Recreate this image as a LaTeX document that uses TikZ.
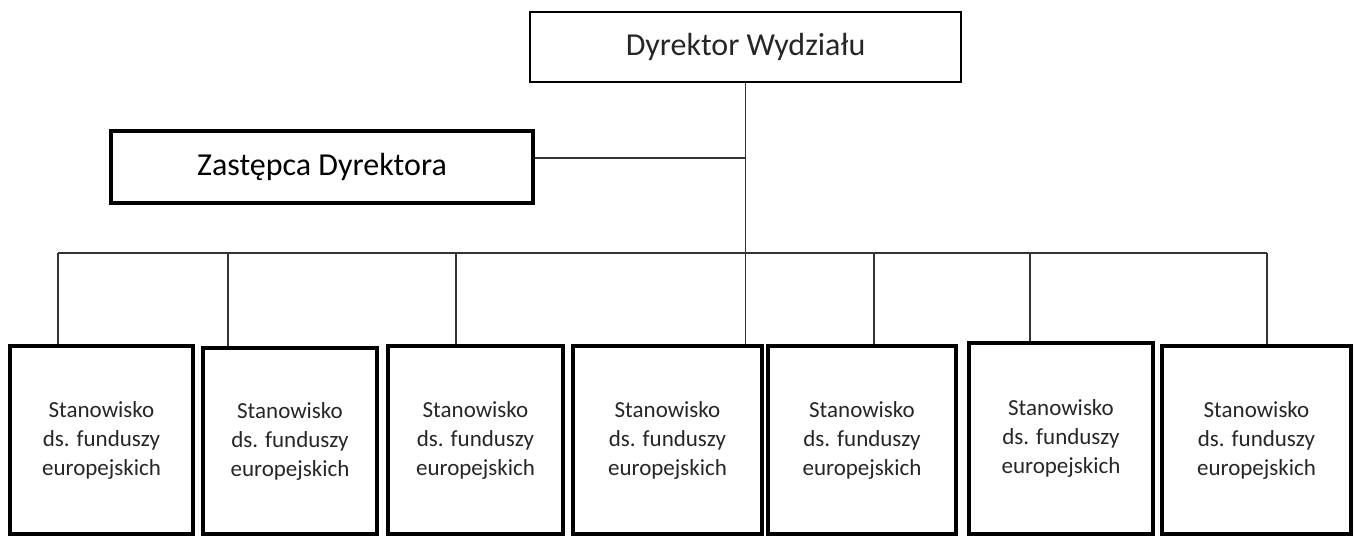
\documentclass[tikz,border=0pt]{standalone}
\usepackage{fontspec}
\setmainfont{Carlito}
\usetikzlibrary{calc}

\tikzset{
  unitbox/.style={draw, line width=3.2pt, inner sep=0pt, align=center, text=black!85},
  headtext/.style={font=\fontsize{32}{38}\selectfont},
  posttext/.style={font=\fontsize{23}{29}\selectfont},
  link/.style={line width=1.3pt, black!80}
}

\begin{document}
\begin{tikzpicture}[x=1pt, y=-1pt]
  \useasboundingbox (0,0) rectangle (1355,537);
  % kierownictwo
  \node[unitbox, headtext, line width=2.4pt, minimum width=431pt, minimum height=70pt] (dyr) at (745.5,47) {Dyrektor Wydziału};
  \node[unitbox, headtext, text=black, minimum width=422pt, minimum height=72pt] (zast) at (322,167) {Zastępca Dyrektora};
  % stanowiska
  \node[unitbox, posttext, minimum width=183pt, minimum height=188pt] (s1) at (101.5,440) {Stanowisko\\ds. funduszy\\europejskich};
  \node[unitbox, posttext, minimum width=174pt, minimum height=186pt] (s2) at (290,441) {Stanowisko\\ds. funduszy\\europejskich};
  \node[unitbox, posttext, minimum width=175pt, minimum height=188pt] (s3) at (475.5,440) {Stanowisko\\ds. funduszy\\europejskich};
  \node[unitbox, posttext, minimum width=189pt, minimum height=188pt] (s4) at (667.5,440) {Stanowisko\\ds. funduszy\\europejskich};
  \node[unitbox, posttext, minimum width=188pt, minimum height=188pt] (s5) at (862,440) {Stanowisko\\ds. funduszy\\europejskich};
  \node[unitbox, posttext, minimum width=184pt, minimum height=191pt] (s6) at (1061,438.5) {Stanowisko\\ds. funduszy\\europejskich};
  \node[unitbox, posttext, minimum width=189pt, minimum height=188pt] (s7) at (1256.5,440) {Stanowisko\\ds. funduszy\\europejskich};
  % punkty na szynie
  \coordinate (j) at (746,158);
  \coordinate (b1) at (58,253);
  \coordinate (b2) at (228,253);
  \coordinate (b3) at (456,253);
  \coordinate (b5) at (874,253);
  \coordinate (b6) at (1030,253);
  \coordinate (b7) at (1267,253);
  % linie
  \draw[link] (dyr.south) -- (dyr.south |- s4.north);
  \draw[link] (zast.east |- j) -- (j);
  \draw[link] (b1) -- (b7);
  \draw[link] (b1) -- (b1 |- s1.north);
  \draw[link] (b2) -- (b2 |- s2.north);
  \draw[link] (b3) -- (b3 |- s3.north);
  \draw[link] (b5) -- (b5 |- s5.north);
  \draw[link] (b6) -- (b6 |- s6.north);
  \draw[link] (b7) -- (b7 |- s7.north);
\end{tikzpicture}
\end{document}
